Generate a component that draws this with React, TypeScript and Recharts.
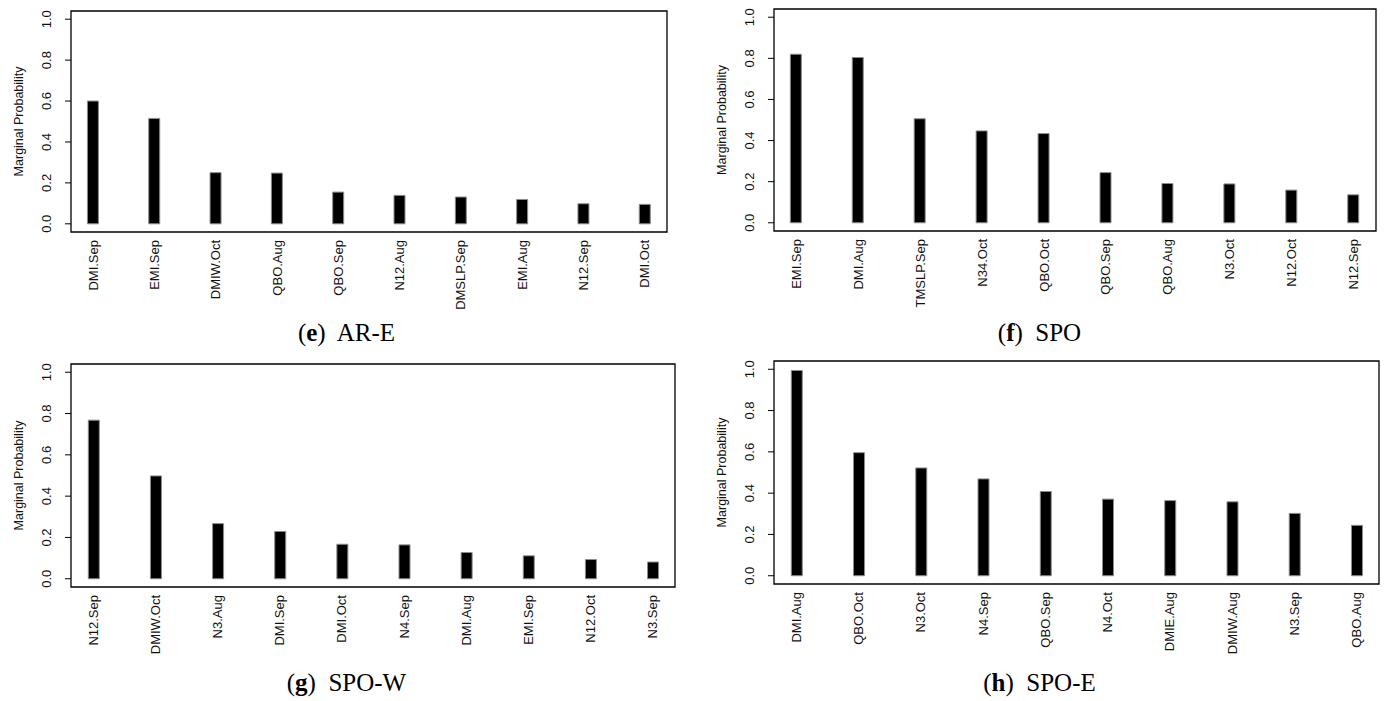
import React from 'react';
import { BarChart, Bar, XAxis, YAxis, ReferenceArea, Label } from 'recharts';

// (e) AR-E
const areLabels = ['DMI.Sep', 'EMI.Sep', 'DMIW.Oct', 'QBO.Aug', 'QBO.Sep', 'N12.Aug', 'DMSLP.Sep', 'EMI.Aug', 'N12.Sep', 'DMI.Oct'];
const areValues = [0.6, 0.515, 0.25, 0.248, 0.155, 0.139, 0.131, 0.119, 0.098, 0.095];

// (f) SPO
const spoLabels = ['EMI.Sep', 'DMI.Aug', 'TMSLP.Sep', 'N34.Oct', 'QBO.Oct', 'QBO.Sep', 'QBO.Aug', 'N3.Oct', 'N12.Oct', 'N12.Sep'];
const spoValues = [0.82, 0.804, 0.506, 0.447, 0.434, 0.244, 0.191, 0.189, 0.159, 0.136];

// (g) SPO-W
const spowLabels = ['N12.Sep', 'DMIW.Oct', 'N3.Aug', 'DMI.Sep', 'DMI.Oct', 'N4.Sep', 'DMI.Aug', 'EMI.Sep', 'N12.Oct', 'N3.Sep'];
const spowValues = [0.768, 0.498, 0.267, 0.229, 0.167, 0.164, 0.127, 0.111, 0.093, 0.081];

// (h) SPO-E
const spoeLabels = ['DMI.Aug', 'QBO.Oct', 'N3.Oct', 'N4.Sep', 'QBO.Sep', 'N4.Oct', 'DMIE.Aug', 'DMIW.Aug', 'N3.Sep', 'QBO.Aug'];
const spoeValues = [0.994, 0.596, 0.522, 0.469, 0.408, 0.371, 0.364, 0.358, 0.302, 0.244];

const yTicks = [0, 0.2, 0.4, 0.6, 0.8, 1.0];
const xIdx = [0, 1, 2, 3, 4, 5, 6, 7, 8, 9];

const SANS = '"Liberation Sans", Arial, sans-serif';
const SERIF = '"Liberation Serif", "Times New Roman", serif';

type PanelProps = {
  x0: number;
  y0: number;
  box: [number, number, number, number]; // left, top, right, bottom (page px)
  labels: string[];
  values: number[];
  letter: string;
  name: string;
};

const W = 693;
const H = 350;

const Panel: React.FC<PanelProps> = ({ x0, y0, box, labels, values, letter, name }) => {
  const data = labels.map((label, i) => ({ i, label, v: values[i] }));
  const [bl, bt, br, bb] = box;
  const yAxisW = bl - x0;
  const top = bt - y0;
  const right = x0 + W - br;
  const xAxisH = 100;
  const bottom = H - (bb - y0) - xAxisH;
  const midY = (bt + bb) / 2 - y0;

  const renderXTick = (p: any) => {
    const ty = p.y + 8;
    return (
      <text
        x={p.x}
        y={ty}
        transform={`rotate(-90, ${p.x}, ${ty})`}
        textAnchor="end"
        dominantBaseline="central"
        fontFamily={SANS}
        fontSize={13}
        fill="#111"
      >
        {labels[p.payload.value]}
      </text>
    );
  };

  const renderYTick = (p: any) => {
    const tx = yAxisW - 24;
    return (
      <text
        x={tx}
        y={p.y}
        transform={`rotate(-90, ${tx}, ${p.y})`}
        textAnchor="middle"
        dominantBaseline="central"
        fontFamily={SANS}
        fontSize={13}
        fill="#111"
      >
        {p.payload.value.toFixed(1)}
      </text>
    );
  };

  const renderYLabel = () => {
    const lx = yAxisW - 52;
    return (
      <text
        x={lx}
        y={midY}
        transform={`rotate(-90, ${lx}, ${midY})`}
        textAnchor="middle"
        dominantBaseline="central"
        fontFamily={SANS}
        fontSize={12.5}
        fill="#111"
      >
        Marginal Probability
      </text>
    );
  };

  return (
    <div style={{ position: 'absolute', left: x0, top: y0, width: W, height: H }}>
      <BarChart width={W} height={H} data={data} margin={{ top, right, bottom, left: 0 }}>
        <XAxis
          type="number"
          dataKey="i"
          domain={[-0.36, 9.36]}
          ticks={xIdx}
          interval={0}
          axisLine={false}
          tickLine={false}
          tickSize={0}
          tickMargin={0}
          height={xAxisH}
          tick={renderXTick}
          allowDataOverflow
        />
        <YAxis
          type="number"
          domain={[-0.04, 1.04]}
          ticks={yTicks}
          interval={0}
          width={yAxisW}
          axisLine={false}
          tickLine={{ stroke: '#000', strokeWidth: 1 }}
          tickSize={6}
          tick={renderYTick}
          allowDataOverflow
        >
          <Label content={renderYLabel} />
        </YAxis>
        <ReferenceArea
          x1={-0.36}
          x2={9.36}
          y1={-0.04}
          y2={1.04}
          fill="none"
          fillOpacity={0}
          stroke="#000"
          strokeWidth={1.3}
          ifOverflow="visible"
        />
        <Bar dataKey="v" fill="#000" stroke="#8c8c8c" strokeWidth={1} barSize={11} isAnimationActive={false} />
      </BarChart>
      <div
        style={{
          position: 'absolute',
          left: 0,
          width: W,
          top: 333 - 13,
          textAlign: 'center',
          fontFamily: SERIF,
          fontSize: 25,
          lineHeight: '26px',
          color: '#000',
          whiteSpace: 'pre',
        }}
      >
        (<b>{letter}</b>){'  '}{name}
      </div>
    </div>
  );
};

export default function App() {
  return (
    <div style={{ position: 'absolute', left: 0, top: 0, width: 1386, height: 701, background: '#fff' }}>
      <Panel x0={0} y0={0} box={[71, 11, 667, 232]} labels={areLabels} values={areValues} letter="e" name="AR-E" />
      <Panel x0={693} y0={0} box={[774, 9, 1376, 231]} labels={spoLabels} values={spoValues} letter="f" name="SPO" />
      <Panel x0={0} y0={350} box={[71, 364, 675, 587]} labels={spowLabels} values={spowValues} letter="g" name="SPO-W" />
      <Panel x0={693} y0={350} box={[774, 361, 1379, 584]} labels={spoeLabels} values={spoeValues} letter="h" name="SPO-E" />
    </div>
  );
}
